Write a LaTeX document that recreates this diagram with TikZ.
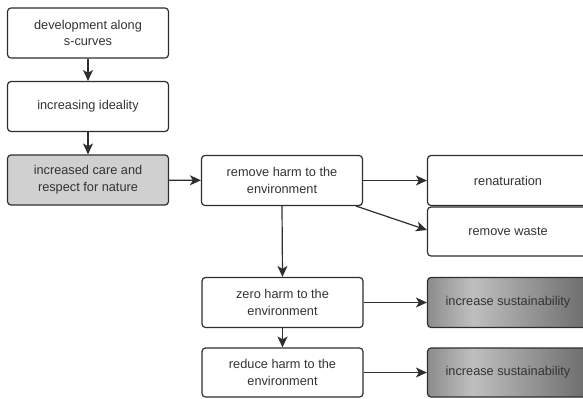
\documentclass[tikz,border=0pt]{standalone}
\usepackage{fontspec}
\setmainfont{Liberation Sans}
\usetikzlibrary{arrows.meta,calc}
\definecolor{edgegray}{HTML}{2E2E2E}
\definecolor{carefill}{HTML}{D0D0D0}
% metallic grey fill of the outcome boxes
\pgfdeclarehorizontalshading{sustain}{100bp}{%
  rgb(0bp)=(0.55,0.55,0.55);
  rgb(25bp)=(0.55,0.55,0.55);
  rgb(39bp)=(0.75,0.75,0.75);
  rgb(75bp)=(0.42,0.42,0.42);
  rgb(100bp)=(0.42,0.42,0.42)}
\tikzset{
  box/.style={draw=edgegray, line width=1.2pt, rounded corners=3.5pt, fill=white,
    minimum width=161bp, minimum height=50bp, align=center,
    font=\fontsize{12.8}{16.8}\selectfont, text=black!80, inner sep=2pt},
  carebox/.style={box, fill=carefill},
  outbox/.style={box, shading=sustain},
  link/.style={draw=edgegray, line width=1.2pt, -{Stealth[length=11bp,width=10bp,inset=3bp]}}
}
\begin{document}
\begin{tikzpicture}[x=1bp,y=-1bp]
\useasboundingbox (0,0) rectangle (583,398);
\clip (0,0) rectangle (583,398);

% left column
\node[box] (scurve) at (88,33) {development along\\s-curves};
\node[box] (ideal) at (88,106.5) {increasing ideality};
\node[carebox] (care) at (88,180) {increased care and\\respect for nature};

% middle column
\node[box] (remove) at (282,180.5) {remove harm to the\\environment};
\node[box] (zero) at (282.5,302.5) {zero harm to the\\environment};
\node[box, minimum height=49bp] (reduce) at (282.5,372.5) {reduce harm to the\\environment};

% right column
\node[box] (renat) at (508,180.5) {renaturation};
\node[box, minimum height=49bp] (waste) at (508,231.5) {remove waste};
\node[outbox] (sust1) at (508,302.5) {increase sustainability};
\node[outbox, minimum height=49bp] (sust2) at (508,372.5) {increase sustainability};

% connectors
\draw[link] (scurve) -- (ideal);
\draw[link] (ideal) -- (care);
\draw[link] (care) -- (remove);
\draw[link] (remove) -- (renat);
\draw[link] ($(remove.south east)+(-7,0)$) -- ($(waste.west)+(0,-1.5)$);
\draw[link] (remove.south) -- (zero.north);
\draw[link] (zero) -- (reduce);
\draw[link] (zero) -- (sust1);
\draw[link] (reduce) -- (sust2);
\end{tikzpicture}
\end{document}
